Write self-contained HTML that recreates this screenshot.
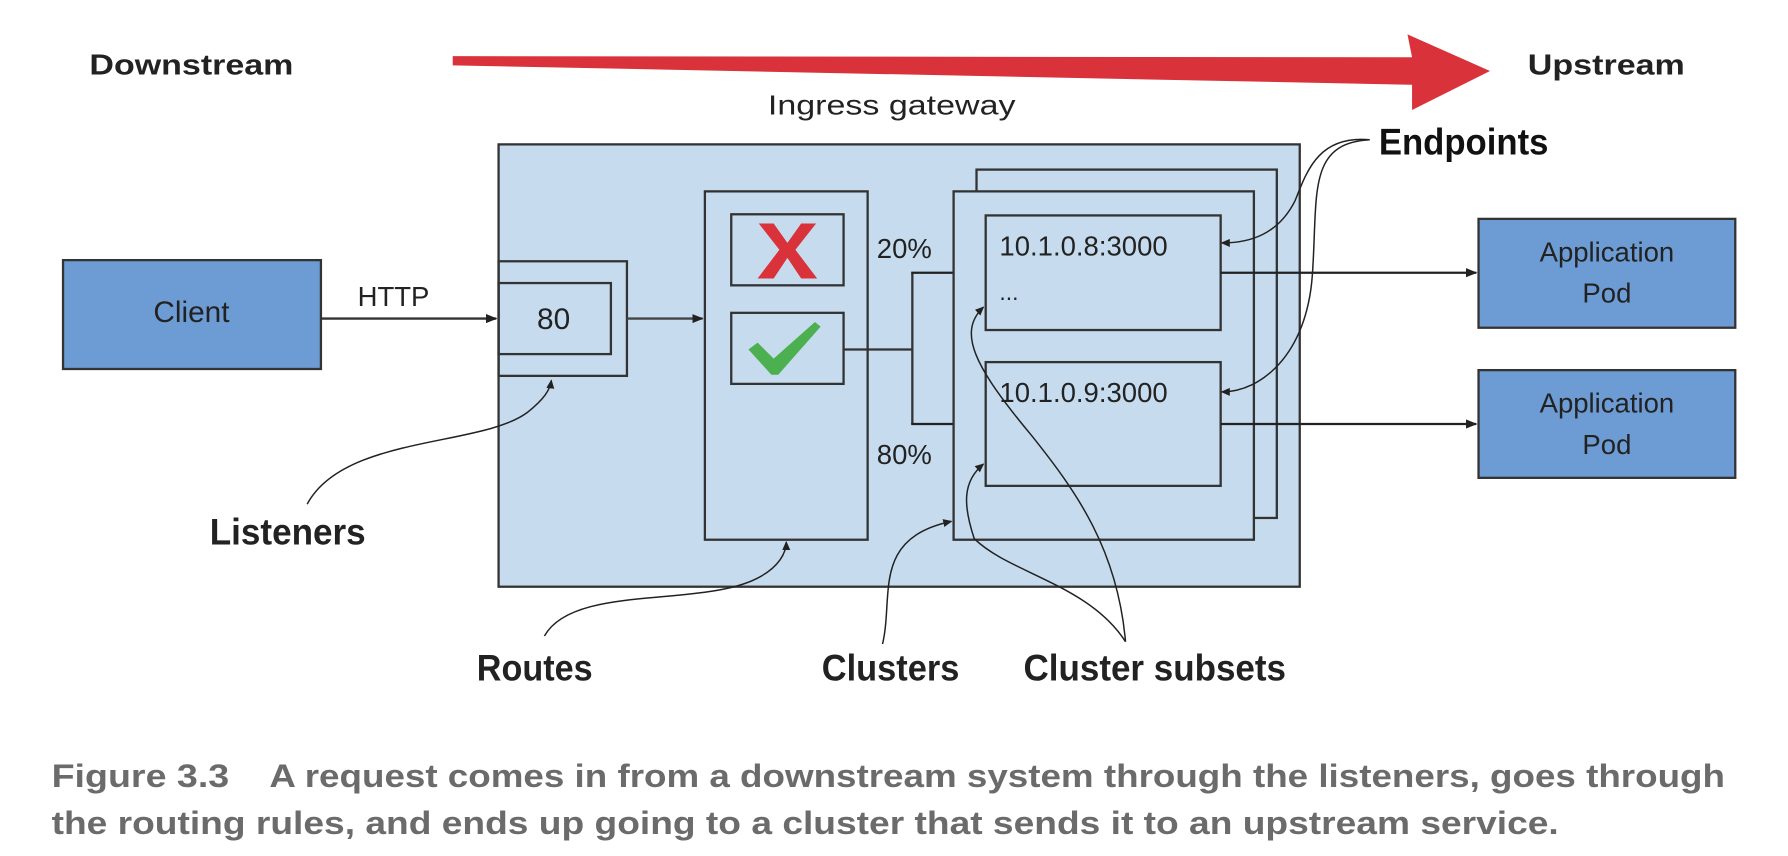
<!DOCTYPE html>
<html><head><meta charset="utf-8"><style>
html,body{margin:0;padding:0;background:#fff;}
svg{display:block;}
text{font-family:"Liberation Sans",sans-serif;}
</style></head><body>
<svg width="1788" height="856" viewBox="0 0 1560 747" preserveAspectRatio="none" xmlns="http://www.w3.org/2000/svg">
<defs>
<marker id="a" markerWidth="10" markerHeight="8" refX="9" refY="4" orient="auto" markerUnits="userSpaceOnUse">
<path d="M0,0 L10,4 L0,8 z" fill="#222"/></marker>
<marker id="s" markerWidth="8" markerHeight="7" refX="7" refY="3.5" orient="auto" markerUnits="userSpaceOnUse">
<path d="M0,0 L8,3.5 L0,7 z" fill="#222"/></marker>
</defs>
<rect width="1560" height="747" fill="#fff"/>
<text x="78" y="65" font-size="25" font-weight="bold" fill="#222" textLength="178" lengthAdjust="spacingAndGlyphs">Downstream</text>
<text x="1333" y="65" font-size="25" font-weight="bold" fill="#222" textLength="137" lengthAdjust="spacingAndGlyphs">Upstream</text>
<path d="M395,49 L1232,50 L1228,30 L1300,62 L1232,96 L1232,74 L395,57 Z" fill="#d9323a"/>
<text x="670" y="100" font-size="24" fill="#222" textLength="216" lengthAdjust="spacingAndGlyphs">Ingress gateway</text>
<rect x="435" y="126" width="699" height="386" fill="#c6dcee" stroke="#333" stroke-width="2"/>
<rect x="55" y="227" width="225" height="95" fill="#6d9cd4" stroke="#333" stroke-width="2"/>
<text x="167" y="281" font-size="26" fill="#222" text-anchor="middle">Client</text>
<text x="312" y="267" font-size="24" fill="#222">HTTP</text>
<line x1="280" y1="278" x2="433" y2="278" stroke="#333" stroke-width="2" marker-end="url(#a)"/>
<rect x="435" y="228" width="112" height="100" fill="none" stroke="#333" stroke-width="2"/>
<rect x="435" y="247" width="98" height="62" fill="none" stroke="#333" stroke-width="2"/>
<text x="483" y="287" font-size="26" fill="#222" text-anchor="middle">80</text>
<line x1="547" y1="278" x2="613" y2="278" stroke="#444" stroke-width="2" marker-end="url(#a)"/>
<rect x="615" y="167" width="142" height="304" fill="none" stroke="#333" stroke-width="2"/>
<rect x="638" y="187" width="98" height="62" fill="none" stroke="#333" stroke-width="2"/>
<path d="M662,195 L675,195 L687,212 L699,195 L712,195 L694,218 L713,243 L699,243 L687,225 L675,243 L661,243 L680,218 Z" fill="#d9323a"/>
<rect x="638" y="273" width="98" height="62" fill="none" stroke="#333" stroke-width="2"/>
<path d="M653,305 L661,299 L675,313 L711,281 L716,285 L679,327 L673,327 Z" fill="#4caf50"/>
<path d="M736,305 L796,305 M796,238 L796,370" stroke="#333" stroke-width="2" fill="none"/>
<line x1="795" y1="238" x2="858" y2="238" stroke="#222" stroke-width="2" marker-end="url(#a)"/>
<line x1="795" y1="370" x2="858" y2="370" stroke="#222" stroke-width="2" marker-end="url(#a)"/>
<text x="765" y="225" font-size="24" fill="#222">20%</text>
<text x="765" y="405" font-size="24" fill="#222">80%</text>
<rect x="852" y="148" width="262" height="304" fill="#c6dcee" stroke="#333" stroke-width="2"/>
<rect x="832" y="167" width="262" height="304" fill="#c6dcee" stroke="#333" stroke-width="2"/>
<rect x="860" y="188" width="205" height="100" fill="none" stroke="#333" stroke-width="2"/>
<rect x="860" y="316" width="205" height="108" fill="none" stroke="#333" stroke-width="2"/>
<text x="872" y="223" font-size="24" fill="#222">10.1.0.8:3000</text>
<text x="872" y="262" font-size="20" fill="#222">...</text>
<text x="872" y="351" font-size="24" fill="#222">10.1.0.9:3000</text>
<line x1="1065" y1="238" x2="1288" y2="238" stroke="#222" stroke-width="2" marker-end="url(#a)"/>
<line x1="1065" y1="370" x2="1288" y2="370" stroke="#222" stroke-width="2" marker-end="url(#a)"/>
<rect x="1290" y="191" width="224" height="95" fill="#6d9cd4" stroke="#333" stroke-width="2"/>
<text x="1402" y="228" font-size="24" fill="#222" text-anchor="middle">Application</text>
<text x="1402" y="264" font-size="24" fill="#222" text-anchor="middle">Pod</text>
<rect x="1290" y="323" width="224" height="94" fill="#6d9cd4" stroke="#333" stroke-width="2"/>
<text x="1402" y="360" font-size="24" fill="#222" text-anchor="middle">Application</text>
<text x="1402" y="396" font-size="24" fill="#222" text-anchor="middle">Pod</text>
<g fill="none" stroke="#222" stroke-width="1.3">
<path d="M1195,122 C1150,118 1140,150 1130,175 C1115,205 1090,212 1066,212" marker-end="url(#s)"/>
<path d="M1195,122 C1140,125 1150,170 1145,240 C1140,310 1100,342 1066,342" marker-end="url(#s)"/>
<path d="M268,440 C300,380 420,390 460,360 C475,348 480,340 481,332" marker-end="url(#s)"/>
<path d="M475,555 C500,510 610,530 660,505 C680,495 686,482 686,473" marker-end="url(#s)"/>
<path d="M770,562 C780,520 760,470 830,455" marker-end="url(#s)"/>
<path d="M982,560 C975,480 940,430 900,380 C850,320 835,290 858,268" marker-end="url(#s)"/>
<path d="M982,560 C950,510 880,500 850,470 C840,440 840,420 858,405" marker-end="url(#s)"/>
</g>
<text x="1203" y="135" font-size="32" font-weight="bold" fill="#111" textLength="148" lengthAdjust="spacingAndGlyphs">Endpoints</text>
<text x="183" y="475" font-size="32" font-weight="bold" fill="#222" textLength="136" lengthAdjust="spacingAndGlyphs">Listeners</text>
<text x="416" y="594" font-size="32" font-weight="bold" fill="#222" textLength="101" lengthAdjust="spacingAndGlyphs">Routes</text>
<text x="717" y="594" font-size="32" font-weight="bold" fill="#222" textLength="120" lengthAdjust="spacingAndGlyphs">Clusters</text>
<text x="893" y="594" font-size="32" font-weight="bold" fill="#222" textLength="229" lengthAdjust="spacingAndGlyphs">Cluster subsets</text>
<text x="45" y="687" font-size="28" font-weight="bold" fill="#6b6b6b" textLength="155" lengthAdjust="spacingAndGlyphs">Figure 3.3</text>
<text x="235" y="687" font-size="28" font-weight="bold" fill="#6b6b6b" textLength="1270" lengthAdjust="spacingAndGlyphs">A request comes in from a downstream system through the listeners, goes through</text>
<text x="45" y="728" font-size="28" font-weight="bold" fill="#6b6b6b" textLength="1315" lengthAdjust="spacingAndGlyphs">the routing rules, and ends up going to a cluster that sends it to an upstream service.</text>
</svg>
</body></html>
